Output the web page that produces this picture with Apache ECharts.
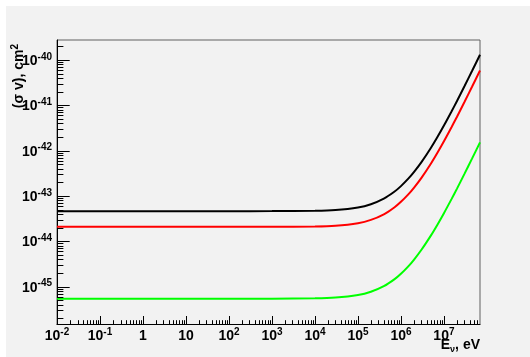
<!DOCTYPE html>
<html><head><meta charset="utf-8">
<script src="https://cdn.jsdelivr.net/npm/echarts@6/dist/echarts.min.js"></script>
<style>
html,body{margin:0;padding:0;background:#fff;}
#c{position:absolute;left:6px;top:6px;width:524px;height:351px;}
</style></head><body><div id="c"></div>
<script>
// Neutrino energy (eV)
const energy = [0.01, 1e2, 1e3, 1e4, 3e4, 1e5, 2e5, 4e5, 7e5, 1e6, 1.5e6, 2e6, 3e6, 5e6, 7e6, 1e7, 1.5e7, 2e7, 3e7, 4.5e7, 6.9e7];
// <sigma v> (cm^2) for the three curves
const sigmaBlack = [4.64e-44, 4.641e-44, 4.649e-44, 4.733e-44, 4.921e-44, 5.594e-44, 6.600e-44, 8.768e-44, 1.241e-43, 1.652e-43, 2.441e-43, 3.360e-43, 5.587e-43, 1.160e-42, 1.970e-42, 3.574e-42, 7.287e-42, 1.230e-41, 2.623e-41, 5.686e-41, 1.302e-40];
const sigmaRed   = [2.09e-44, 2.090e-44, 2.094e-44, 2.132e-44, 2.216e-44, 2.520e-44, 2.973e-44, 3.949e-44, 5.590e-44, 7.441e-44, 1.099e-43, 1.513e-43, 2.517e-43, 5.226e-43, 8.872e-43, 1.610e-42, 3.282e-42, 5.540e-42, 1.181e-41, 2.561e-41, 5.865e-41];
const sigmaGreen = [5.43e-46, 5.431e-46, 5.441e-46, 5.539e-46, 5.759e-46, 6.546e-46, 7.724e-46, 1.026e-45, 1.452e-45, 1.933e-45, 2.856e-45, 3.932e-45, 6.539e-45, 1.358e-44, 2.305e-44, 4.182e-44, 8.528e-44, 1.439e-43, 3.069e-43, 6.654e-43, 1.524e-42];
// tick exponents (labels)
const xTickExponents = [-2, -1, 0, 1, 2, 3, 4, 5, 6, 7];
const yTickExponents = [-45, -44, -43, -42, -41, -40];
const xMin = 1e-2, xMax = 6.9e7, yMin = 1.47e-46, yMax = 2.75e-40;

// ECharts rounds to 20 decimals, so the y axis is plotted in units of 1e-46 cm^2
const Y_EXP = 46, Y_SCALE = 1e46;
const FONT = 'Liberation Sans, Arial, Helvetica, sans-serif';

function zip(xs, ys) { return xs.map((x, i) => [x, ys[i] * Y_SCALE]); }

function expLabel(value, exps, shift) {
  const l = Math.log10(value);
  const n0 = Math.round(l);
  if (Math.abs(l - n0) > 1e-6) return '';
  const n = n0 - shift;
  if (exps.indexOf(n) < 0) return '';
  if (n === 0) return '{p|1}';
  if (n === 1) return '{p|10}';
  return '{b|10}{s|' + n + '}';
}

const richLab = {
  b: {fontFamily: FONT, fontWeight: 'bold', fontSize: 14, color: '#000', lineHeight: 16, verticalAlign: 'bottom'},
  p: {fontFamily: FONT, fontWeight: 'bold', fontSize: 14, color: '#000', lineHeight: 16, padding: [2, 0, 0, 0], verticalAlign: 'bottom'},
  s: {fontFamily: FONT, fontWeight: 'bold', fontSize: 10, color: '#000', lineHeight: 10, padding: [0, 0, 8, 0], verticalAlign: 'top'}
};

const yLo = yMin * Y_SCALE, yHi = yMax * Y_SCALE;
// tick marks (major + minor 2..9) built from the axis structure
const xTicks = [], yTicks = [];
for (let n = -2; n <= 8; n++) {
  for (let k = 1; k <= 9; k++) {
    const v = k * Math.pow(10, n);
    if (v > xMin * 1.0001 && v < xMax * 0.9999) xTicks.push([v, yLo, k === 1 ? 8.5 : 4.3]);
  }
}
for (let n = 0; n <= 7; n++) {
  for (let k = 1; k <= 9; k++) {
    const v = k * Math.pow(10, n);
    if (v > yLo * 1.0001 && v < yHi * 0.9999) yTicks.push([xMin, v, k === 1 ? 12.7 : 6.4]);
  }
}

const lineSeries = (data, color) => ({type: 'line', data: zip(energy, data), showSymbol: false, smooth: 0.3,
  lineStyle: {color: color, width: 2}, itemStyle: {color: color}, z: 5});

const chart = echarts.init(document.getElementById('c'), null, {renderer: 'canvas'});
chart.setOption({
  backgroundColor: '#f2f2f2',
  animation: false,
  grid: {left: 51, right: 50, top: 34, bottom: 32.5, show: true, borderColor: '#606060', borderWidth: 1, backgroundColor: '#f2f2f2'},
  xAxis: {
    type: 'log', logBase: 10, min: xMin, max: xMax,
    axisLine: {show: true, lineStyle: {color: '#000', width: 1}},
    axisTick: {show: false},
    splitLine: {show: false},
    axisLabel: {margin: 3, formatter: v => expLabel(v, xTickExponents, 0), rich: richLab, fontFamily: FONT, fontWeight: 'bold', color: '#000'}
  },
  yAxis: {
    type: 'log', logBase: 10, min: yLo, max: yHi,
    axisLine: {show: true, lineStyle: {color: '#000', width: 1}},
    axisTick: {show: false},
    splitLine: {show: false},
    axisLabel: {margin: 5, formatter: v => expLabel(v, yTickExponents, Y_EXP), rich: richLab, fontFamily: FONT, fontWeight: 'bold', color: '#000'}
  },
  series: [
    lineSeries(sigmaBlack, '#000000'),
    lineSeries(sigmaRed, '#ff0000'),
    lineSeries(sigmaGreen, '#00ff00'),
    {type: 'custom', silent: true, clip: false, z: 10, data: xTicks,
      renderItem: (params, api) => {
        const p = api.coord([api.value(0), api.value(1)]);
        const x = Math.round(p[0]) + 0.5;
        return {type: 'line', shape: {x1: x, y1: p[1], x2: x, y2: p[1] - api.value(2)}, style: {stroke: '#000', lineWidth: 1}};
      }},
    {type: 'custom', silent: true, clip: false, z: 10, data: yTicks,
      renderItem: (params, api) => {
        const p = api.coord([api.value(0), api.value(1)]);
        const y = Math.round(p[1]) + 0.5;
        return {type: 'line', shape: {x1: p[0], y1: y, x2: p[0] + api.value(2), y2: y}, style: {stroke: '#000', lineWidth: 1}};
      }}
  ],
  graphic: [
    {type: 'text', x: 12, y: 38, rotation: Math.PI / 2, z: 100,
      style: {text: '{m|(σ v), cm}{s|2}', align: 'right', verticalAlign: 'middle', fill: '#000',
        rich: {m: {fontFamily: FONT, fontWeight: 'bold', fontSize: 14, lineHeight: 16, verticalAlign: 'bottom'},
               s: {fontFamily: FONT, fontWeight: 'bold', fontSize: 10, lineHeight: 10, padding: [0, 0, 9, 0], verticalAlign: 'top'}}}},
    {type: 'text', x: 474, y: 340, z: 100,
      style: {text: '{m|E}{sub|ν}{m|, eV}', align: 'right', verticalAlign: 'middle', fill: '#000',
        rich: {m: {fontFamily: FONT, fontWeight: 'bold', fontSize: 14, lineHeight: 16, verticalAlign: 'top'},
               sub: {fontFamily: FONT, fontWeight: 'bold', fontSize: 9, lineHeight: 9, padding: [6, 0, 0, 0], verticalAlign: 'bottom'}}}}
  ]
});
</script></body></html>
